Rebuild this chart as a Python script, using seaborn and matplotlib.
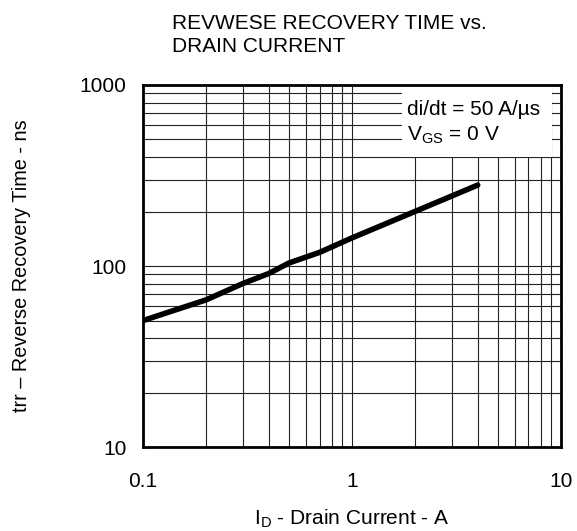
import matplotlib
matplotlib.use("Agg")
import matplotlib.pyplot as plt
import numpy as np
import pandas as pd
import seaborn as sns
from matplotlib.patches import Rectangle
from matplotlib.ticker import LogLocator, FixedLocator, FixedFormatter, NullFormatter

# Values
drain_current = [0.1, 0.2, 0.3, 0.4, 0.5, 0.7, 1.0, 2.0, 4.0]
recovery_time = [50, 65, 80, 91, 104, 119, 143, 200, 280]

x_ticks = [0.1, 1, 10]
x_tick_labels = ["0.1", "1", "10"]
y_ticks = [10, 100, 1000]
y_tick_labels = ["10", "100", "1000"]

sns.set_style("white")
plt.rcParams["font.family"] = ["Liberation Sans", "DejaVu Sans"]
plt.rcParams["mathtext.fontset"] = "custom"
plt.rcParams["mathtext.rm"] = "Liberation Sans"
for key in ["text.color", "axes.labelcolor", "xtick.color", "ytick.color"]:
    plt.rcParams[key] = "black"

df = pd.DataFrame({"id": drain_current, "trr": recovery_time})

fig = plt.figure(figsize=(5.77, 5.31), dpi=100)
ax = fig.add_axes([0.248, 0.158, 0.724, 0.682])

ax.set_xscale("log")
ax.set_yscale("log")
ax.set_xlim(0.1, 10)
ax.set_ylim(10, 1000)

# Grid on every decade subdivision
ax.xaxis.set_minor_locator(LogLocator(base=10, subs=np.arange(2, 10)))
ax.yaxis.set_minor_locator(LogLocator(base=10, subs=np.arange(2, 10)))
ax.xaxis.set_minor_formatter(NullFormatter())
ax.yaxis.set_minor_formatter(NullFormatter())
ax.grid(True, which="both", color="#222222", linewidth=0.8)
ax.tick_params(which="both", length=0, labelsize=15)
ax.tick_params(axis="x", pad=18)
ax.tick_params(axis="y", pad=12)

sns.lineplot(data=df, x="id", y="trr", ax=ax, color="black", linewidth=4, zorder=5)

ax.xaxis.set_major_locator(FixedLocator(x_ticks))
ax.xaxis.set_major_formatter(FixedFormatter(x_tick_labels))
ax.yaxis.set_major_locator(FixedLocator(y_ticks))
ax.yaxis.set_major_formatter(FixedFormatter(y_tick_labels))

for spine in ax.spines.values():
    spine.set_color("black")
    spine.set_linewidth(2)
    spine.set_zorder(7)

ax.set_xlabel(r"I$_{\rm D}$ - Drain Current - A", fontsize=15, labelpad=12)
ax.set_ylabel("trr \u2013 Reverse Recovery Time - ns", fontsize=14.3, labelpad=35)

# White patch behind the test conditions
ax.add_patch(Rectangle((0.62, 0.80), 0.36, 0.20, transform=ax.transAxes,
                       facecolor="white", edgecolor="none", zorder=3))
ax.text(0.632, 0.895, "di/dt = 50 A/\u00b5s\nV$_{\\rm GS}$ = 0 V", transform=ax.transAxes,
        fontsize=15, va="center", ha="left", linespacing=1.35, zorder=6)

fig.text(0.298, 0.8945, "REVWESE RECOVERY TIME vs.\nDRAIN CURRENT", fontsize=15,
         ha="left", va="bottom", linespacing=1.26)

fig.savefig("out.png", dpi=100)
